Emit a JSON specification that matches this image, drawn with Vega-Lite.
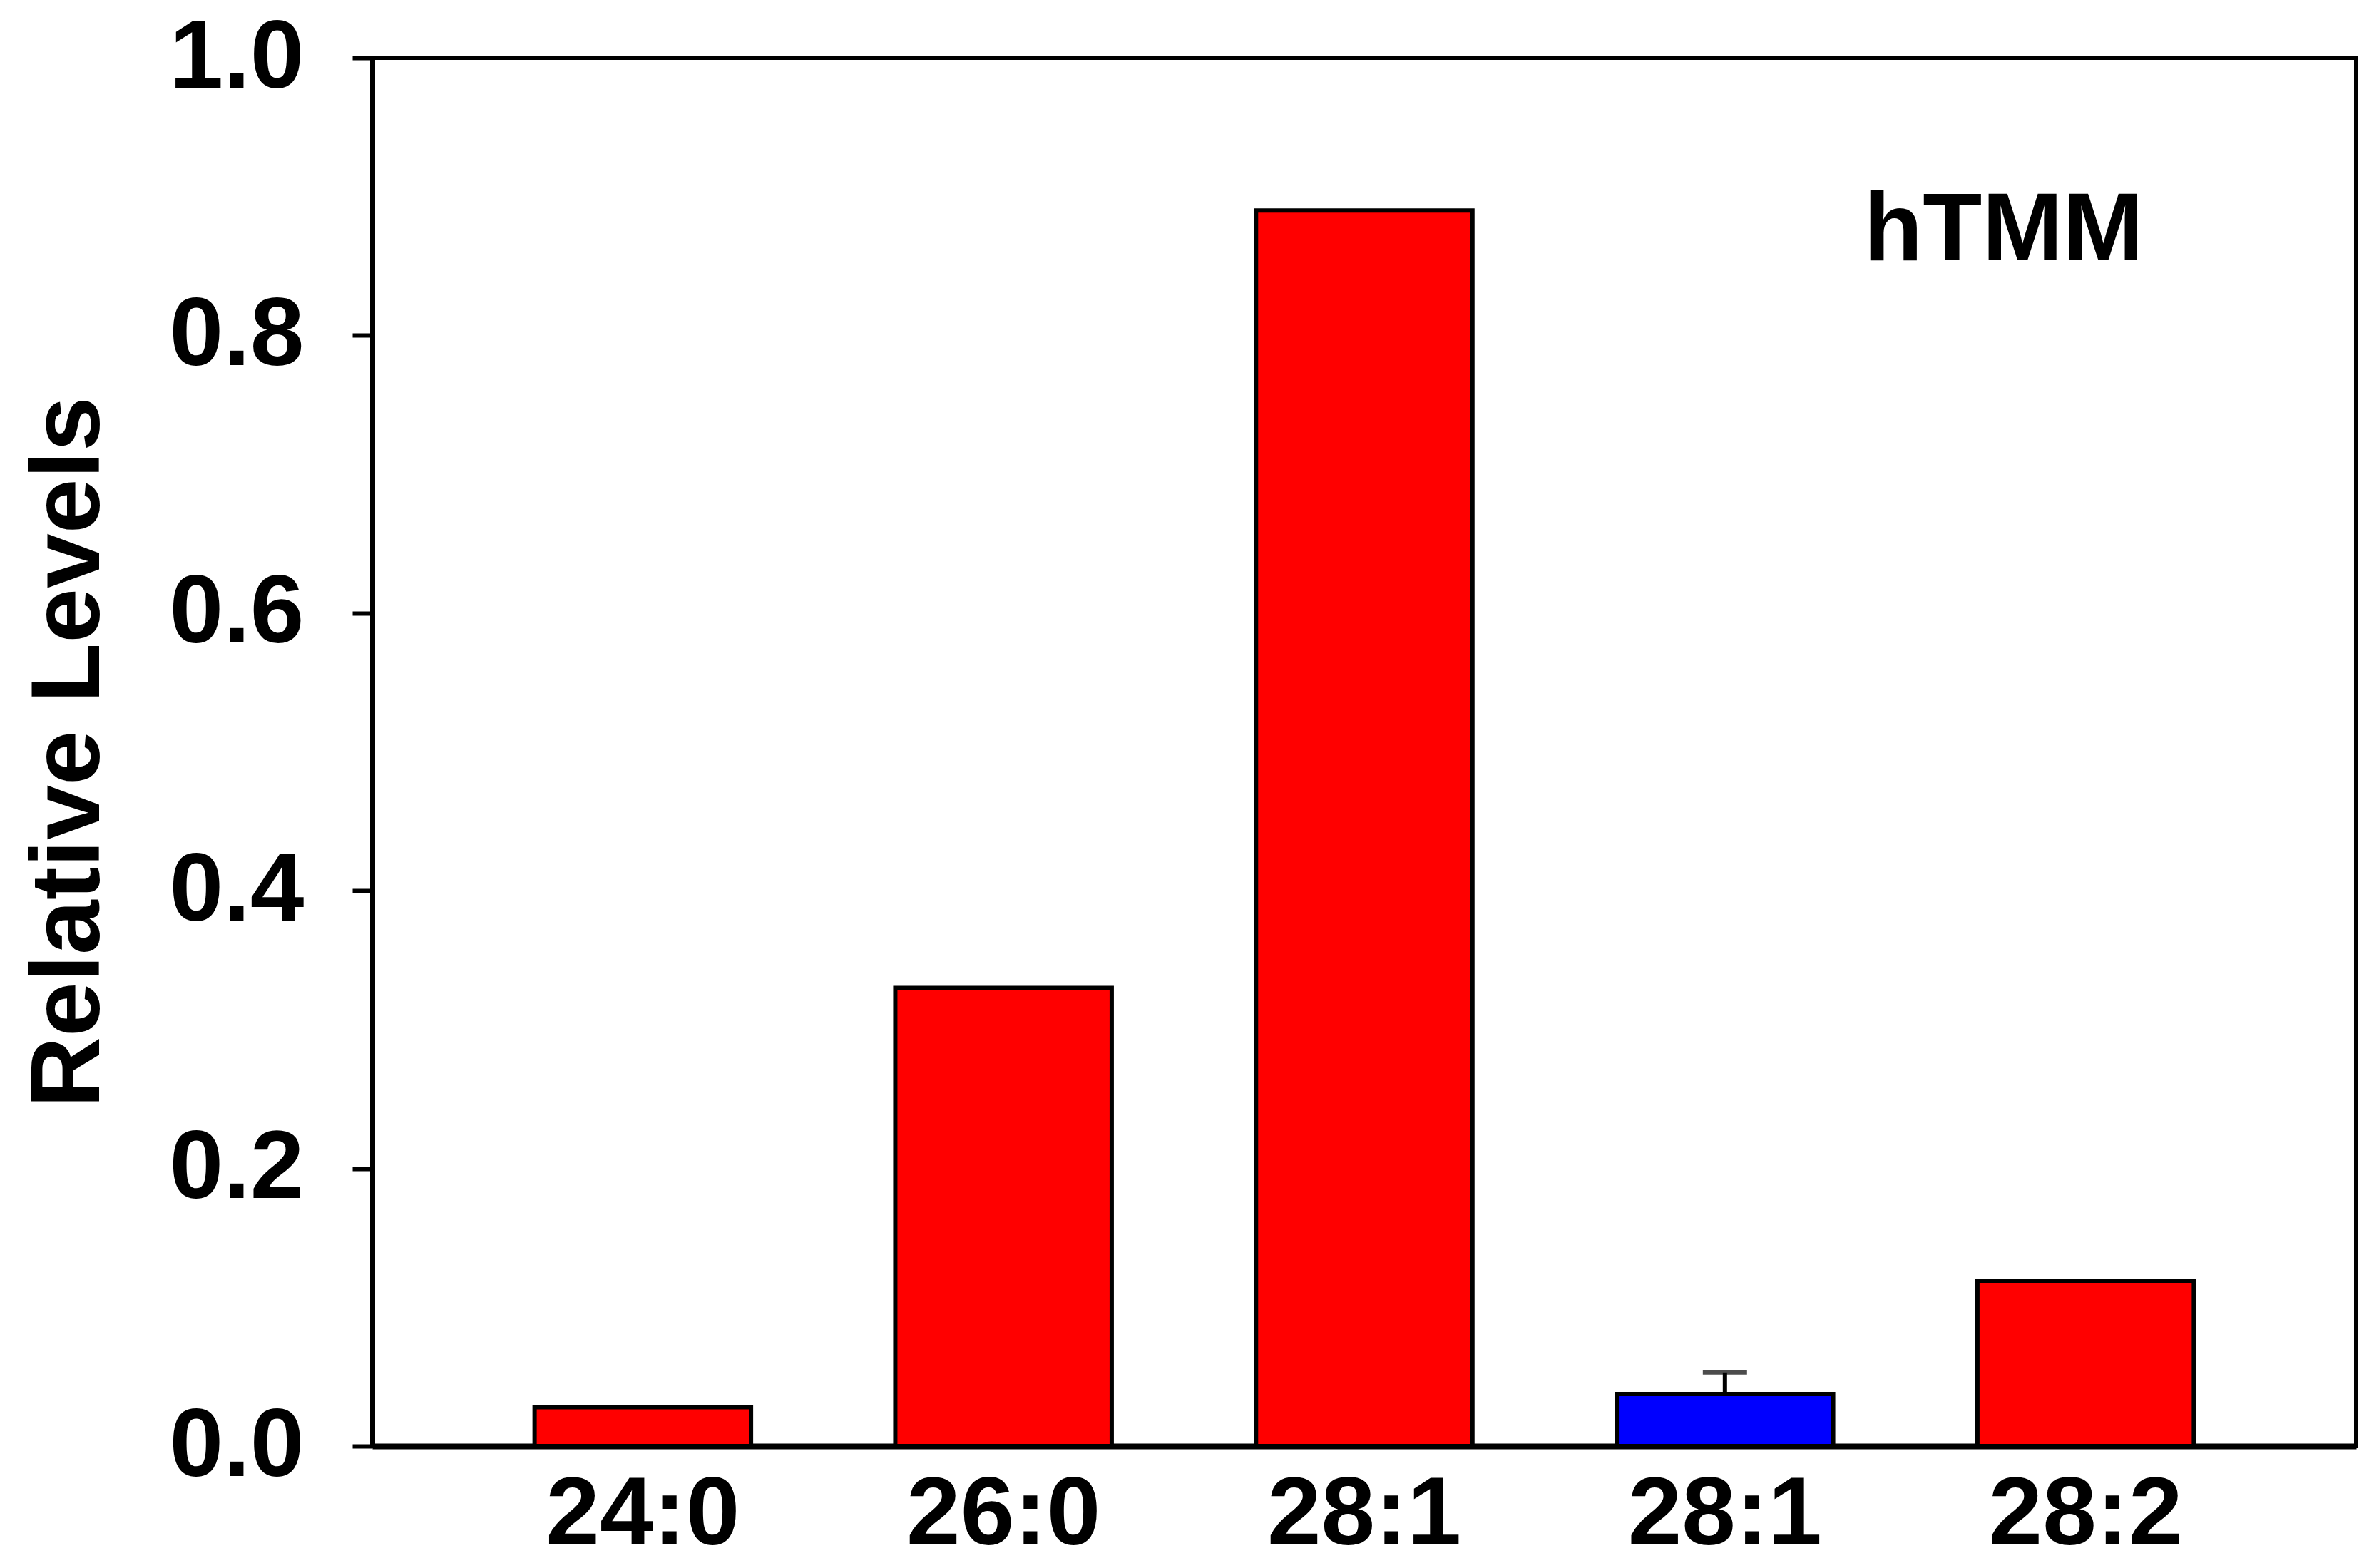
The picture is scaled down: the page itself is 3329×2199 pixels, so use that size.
{
  "$schema": "https://vega.github.io/schema/vega-lite/v6.json",
  "autosize": "none",
  "padding": {"left": 522, "top": 81, "right": 25, "bottom": 171},
  "width": 2782,
  "height": 1947,
  "background": "white",
  "config": {
    "view": {"stroke": "black", "strokeWidth": 6},
    "font": "Liberation Sans",
    "axis": {"grid": false, "labelLimit": 2000, "titleLimit": 4000}
  },
  "datasets": {
    "bars": [
      {"lipid": "24:0", "level": 0.028, "series": "A"},
      {"lipid": "26:0", "level": 0.33, "series": "A"},
      {"lipid": "28:1", "level": 0.89, "series": "A"},
      {"lipid": "28:1b", "level": 0.0375, "series": "B"},
      {"lipid": "28:2", "level": 0.119, "series": "A"}
    ],
    "errors": [
      {"lipid": "28:1b", "level": 0.0375, "upper": 0.053}
    ],
    "labels": [
      {"lipid": "28:2", "level": 0.854, "text": "hTMM"}
    ]
  },
  "layer": [
    {
      "data": {"name": "bars"},
      "mark": {"type": "bar", "stroke": "black", "strokeWidth": 6},
      "encoding": {
        "x": {
          "field": "lipid", "type": "nominal", "sort": null,
          "scale": {"paddingInner": 0.4, "paddingOuter": 0.45},
          "axis": {
            "title": null, "labelAngle": 0, "ticks": false,
            "domainColor": "black", "domainWidth": 8,
            "labelFontSize": 136, "labelFontWeight": "bold", "labelColor": "black",
            "labelFont": "Liberation Sans", "labelPadding": 30,
            "labelExpr": "replace(datum.label, 'b', '')"
          }
        },
        "y": {
          "field": "level", "type": "quantitative",
          "scale": {"domain": [0, 1], "nice": false},
          "axis": {
            "title": "Relative Levels", "values": [0, 0.2, 0.4, 0.6, 0.8, 1.0],
            "format": ".1f", "tickSize": 28, "tickWidth": 6, "tickColor": "black",
            "domainColor": "black", "domainWidth": 7,
            "labelFontSize": 136, "labelFontWeight": "bold", "labelColor": "black",
            "labelFont": "Liberation Sans", "labelPadding": 68,
            "titleFontSize": 138, "titleFontWeight": "bold", "titleColor": "black",
            "titleFont": "Liberation Sans", "titlePadding": 155
          }
        },
        "color": {
          "field": "series", "type": "nominal",
          "scale": {"domain": ["A", "B"], "range": ["#ff0000", "#0000ff"]},
          "legend": null
        }
      }
    },
    {
      "data": {"name": "errors"},
      "mark": {"type": "rule", "color": "black", "strokeWidth": 6},
      "encoding": {
        "x": {"field": "lipid", "type": "nominal", "sort": null},
        "y": {"field": "level", "type": "quantitative"},
        "y2": {"field": "upper"}
      }
    },
    {
      "data": {"name": "errors"},
      "mark": {"type": "tick", "color": "black", "size": 62, "thickness": 6, "orient": "horizontal"},
      "encoding": {
        "x": {"field": "lipid", "type": "nominal", "sort": null},
        "y": {"field": "upper", "type": "quantitative"}
      }
    },
    {
      "data": {"name": "labels"},
      "mark": {"type": "text", "fontSize": 136, "fontWeight": "bold", "font": "Liberation Sans", "color": "black", "align": "center", "baseline": "alphabetic", "dx": -115},
      "encoding": {
        "x": {"field": "lipid", "type": "nominal", "sort": null},
        "y": {"field": "level", "type": "quantitative"},
        "text": {"field": "text"}
      }
    }
  ]
}
